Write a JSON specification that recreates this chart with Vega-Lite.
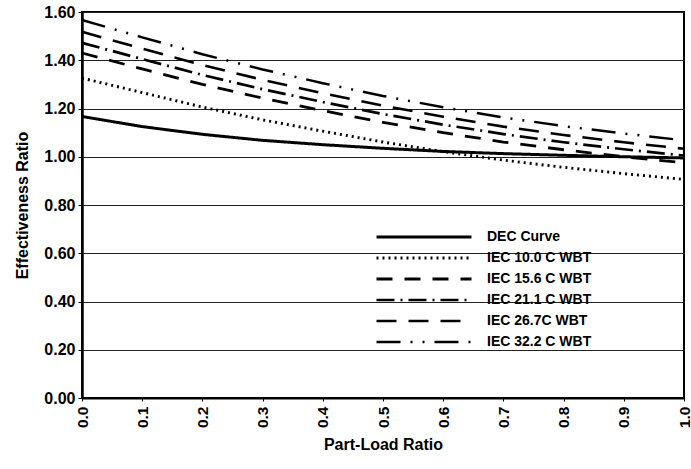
{
  "$schema": "https://vega.github.io/schema/vega-lite/v6.json",
  "width": 602,
  "height": 386,
  "autosize": "none",
  "padding": {"left": 82, "top": 12, "right": 7, "bottom": 71},
  "background": "white",
  "config": {
    "font": "Liberation Sans",
    "view": {"stroke": "black", "strokeWidth": 2}
  },
  "data": {"values": [
    {"plr": 0.0, "er": 1.167, "s": "DEC Curve"},
    {"plr": 0.1, "er": 1.125, "s": "DEC Curve"},
    {"plr": 0.2, "er": 1.093, "s": "DEC Curve"},
    {"plr": 0.3, "er": 1.068, "s": "DEC Curve"},
    {"plr": 0.4, "er": 1.050, "s": "DEC Curve"},
    {"plr": 0.5, "er": 1.035, "s": "DEC Curve"},
    {"plr": 0.6, "er": 1.022, "s": "DEC Curve"},
    {"plr": 0.7, "er": 1.013, "s": "DEC Curve"},
    {"plr": 0.8, "er": 1.006, "s": "DEC Curve"},
    {"plr": 0.9, "er": 1.000, "s": "DEC Curve"},
    {"plr": 1.0, "er": 0.995, "s": "DEC Curve"},
    {"plr": 0.0, "er": 1.326, "s": "IEC 10.0 C WBT"},
    {"plr": 0.1, "er": 1.266, "s": "IEC 10.0 C WBT"},
    {"plr": 0.2, "er": 1.206, "s": "IEC 10.0 C WBT"},
    {"plr": 0.3, "er": 1.153, "s": "IEC 10.0 C WBT"},
    {"plr": 0.4, "er": 1.106, "s": "IEC 10.0 C WBT"},
    {"plr": 0.5, "er": 1.061, "s": "IEC 10.0 C WBT"},
    {"plr": 0.6, "er": 1.021, "s": "IEC 10.0 C WBT"},
    {"plr": 0.7, "er": 0.986, "s": "IEC 10.0 C WBT"},
    {"plr": 0.8, "er": 0.956, "s": "IEC 10.0 C WBT"},
    {"plr": 0.9, "er": 0.930, "s": "IEC 10.0 C WBT"},
    {"plr": 1.0, "er": 0.906, "s": "IEC 10.0 C WBT"},
    {"plr": 0.0, "er": 1.430, "s": "IEC 15.6 C WBT"},
    {"plr": 0.1, "er": 1.364, "s": "IEC 15.6 C WBT"},
    {"plr": 0.2, "er": 1.300, "s": "IEC 15.6 C WBT"},
    {"plr": 0.3, "er": 1.243, "s": "IEC 15.6 C WBT"},
    {"plr": 0.4, "er": 1.191, "s": "IEC 15.6 C WBT"},
    {"plr": 0.5, "er": 1.143, "s": "IEC 15.6 C WBT"},
    {"plr": 0.6, "er": 1.100, "s": "IEC 15.6 C WBT"},
    {"plr": 0.7, "er": 1.061, "s": "IEC 15.6 C WBT"},
    {"plr": 0.8, "er": 1.029, "s": "IEC 15.6 C WBT"},
    {"plr": 0.9, "er": 1.000, "s": "IEC 15.6 C WBT"},
    {"plr": 1.0, "er": 0.975, "s": "IEC 15.6 C WBT"},
    {"plr": 0.0, "er": 1.472, "s": "IEC 21.1 C WBT"},
    {"plr": 0.1, "er": 1.405, "s": "IEC 21.1 C WBT"},
    {"plr": 0.2, "er": 1.339, "s": "IEC 21.1 C WBT"},
    {"plr": 0.3, "er": 1.280, "s": "IEC 21.1 C WBT"},
    {"plr": 0.4, "er": 1.227, "s": "IEC 21.1 C WBT"},
    {"plr": 0.5, "er": 1.177, "s": "IEC 21.1 C WBT"},
    {"plr": 0.6, "er": 1.133, "s": "IEC 21.1 C WBT"},
    {"plr": 0.7, "er": 1.094, "s": "IEC 21.1 C WBT"},
    {"plr": 0.8, "er": 1.060, "s": "IEC 21.1 C WBT"},
    {"plr": 0.9, "er": 1.031, "s": "IEC 21.1 C WBT"},
    {"plr": 1.0, "er": 1.005, "s": "IEC 21.1 C WBT"},
    {"plr": 0.0, "er": 1.518, "s": "IEC 26.7C WBT"},
    {"plr": 0.1, "er": 1.448, "s": "IEC 26.7C WBT"},
    {"plr": 0.2, "er": 1.380, "s": "IEC 26.7C WBT"},
    {"plr": 0.3, "er": 1.319, "s": "IEC 26.7C WBT"},
    {"plr": 0.4, "er": 1.263, "s": "IEC 26.7C WBT"},
    {"plr": 0.5, "er": 1.212, "s": "IEC 26.7C WBT"},
    {"plr": 0.6, "er": 1.166, "s": "IEC 26.7C WBT"},
    {"plr": 0.7, "er": 1.125, "s": "IEC 26.7C WBT"},
    {"plr": 0.8, "er": 1.090, "s": "IEC 26.7C WBT"},
    {"plr": 0.9, "er": 1.060, "s": "IEC 26.7C WBT"},
    {"plr": 1.0, "er": 1.033, "s": "IEC 26.7C WBT"},
    {"plr": 0.0, "er": 1.567, "s": "IEC 32.2 C WBT"},
    {"plr": 0.1, "er": 1.495, "s": "IEC 32.2 C WBT"},
    {"plr": 0.2, "er": 1.425, "s": "IEC 32.2 C WBT"},
    {"plr": 0.3, "er": 1.362, "s": "IEC 32.2 C WBT"},
    {"plr": 0.4, "er": 1.305, "s": "IEC 32.2 C WBT"},
    {"plr": 0.5, "er": 1.252, "s": "IEC 32.2 C WBT"},
    {"plr": 0.6, "er": 1.205, "s": "IEC 32.2 C WBT"},
    {"plr": 0.7, "er": 1.163, "s": "IEC 32.2 C WBT"},
    {"plr": 0.8, "er": 1.127, "s": "IEC 32.2 C WBT"},
    {"plr": 0.9, "er": 1.096, "s": "IEC 32.2 C WBT"},
    {"plr": 1.0, "er": 1.068, "s": "IEC 32.2 C WBT"}
  ]},
  "mark": {"type": "line", "color": "black", "strokeCap": "butt"},
  "encoding": {
    "x": {
      "field": "plr", "type": "quantitative",
      "scale": {"domain": [0, 1], "nice": false, "zero": false},
      "axis": {
        "title": "Part-Load Ratio", "titleFontSize": 16, "titleFontWeight": "bold", "titleColor": "black", "titlePadding": 9,
        "values": [0, 0.1, 0.2, 0.3, 0.4, 0.5, 0.6, 0.7, 0.8, 0.9, 1.0], "format": ".1f",
        "labelAngle": 270, "labelFontSize": 15.5, "labelFontWeight": "bold", "labelColor": "black", "labelPadding": 5, "labelFlush": false,
        "grid": false, "domainColor": "black", "domainWidth": 2, "tickColor": "black", "tickSize": 3, "tickWidth": 1
      }
    },
    "y": {
      "field": "er", "type": "quantitative",
      "scale": {"domain": [0, 1.6], "nice": false, "zero": true},
      "axis": {
        "title": "Effectiveness Ratio", "titleFontSize": 16, "titleFontWeight": "bold", "titleColor": "black", "titlePadding": 13,
        "values": [0, 0.2, 0.4, 0.6, 0.8, 1.0, 1.2, 1.4, 1.6], "format": ".2f",
        "labelFontSize": 16, "labelFontWeight": "bold", "labelColor": "black", "labelPadding": 3, "labelFlush": false,
        "grid": true, "gridColor": "#222", "gridWidth": 1.2,
        "domainColor": "black", "domainWidth": 2.5, "tickColor": "black", "tickSize": 4, "tickWidth": 1
      }
    },
    "detail": {"field": "s"},
    "strokeDash": {
      "field": "s", "type": "nominal",
      "scale": {
        "domain": ["DEC Curve", "IEC 10.0 C WBT", "IEC 15.6 C WBT", "IEC 21.1 C WBT", "IEC 26.7C WBT", "IEC 32.2 C WBT"],
        "range": [[1, 0], [2, 4], [16, 12], [18, 6, 2, 6], [20, 12], [24, 10, 2, 10, 2, 10]]
      },
      "legend": {
        "title": null, "orient": "none", "legendX": 293, "legendY": 215,
        "symbolType": "stroke", "symbolSize": 9025, "symbolStrokeColor": "black", "symbolStrokeWidth": 2.5,
        "clipHeight": 20, "rowPadding": 1,
        "labelFontSize": 14, "labelFontWeight": "bold", "labelColor": "black", "labelOffset": 14
      }
    },
    "strokeWidth": {
      "field": "s", "type": "nominal",
      "scale": {
        "domain": ["DEC Curve", "IEC 10.0 C WBT", "IEC 15.6 C WBT", "IEC 21.1 C WBT", "IEC 26.7C WBT", "IEC 32.2 C WBT"],
        "range": [3, 2.5, 1.8, 2, 3.5, 3.5]
      },
      "legend": null
    }
  }
}
